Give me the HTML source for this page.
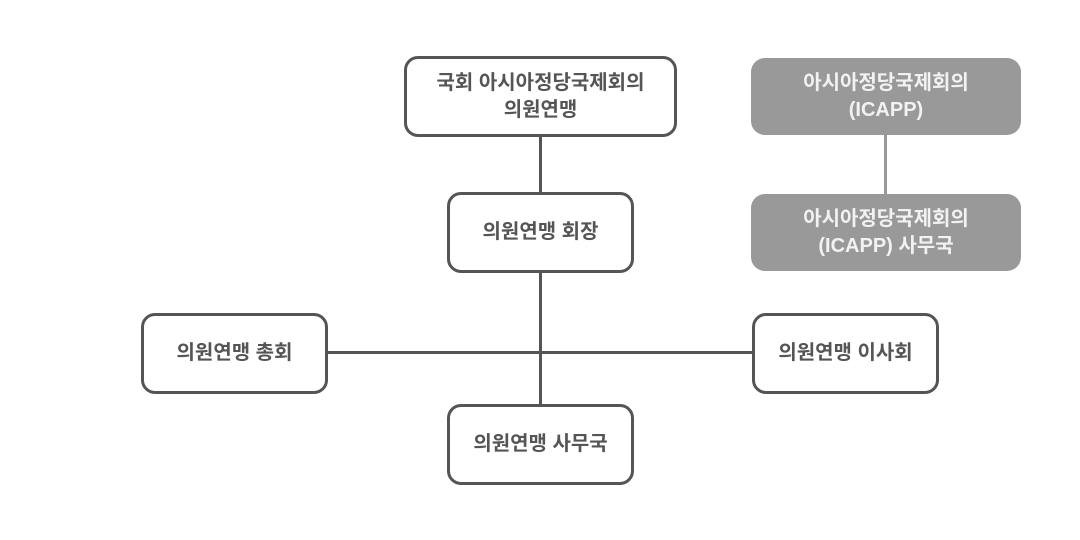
<!DOCTYPE html>
<html><head><meta charset="utf-8"><style>
body{margin:0;width:1080px;height:540px;background:#fff;position:relative;overflow:hidden;font-family:"Liberation Sans","Noto Sans CJK KR",sans-serif;}
.b{position:absolute;box-sizing:border-box;border:3px solid #555;border-radius:14px;background:#fff;display:flex;align-items:center;justify-content:center;text-align:center;color:#555;font-weight:bold;font-size:20px;line-height:27px;}
.g{position:absolute;box-sizing:border-box;border-radius:14px;background:#999;display:flex;align-items:center;justify-content:center;text-align:center;color:#f2f2f2;font-weight:bold;font-size:20px;line-height:27px;}
.l{position:absolute;background:#555;}
</style></head><body>
<div class="l" style="left:539px;top:136px;width:3px;height:58px"></div>
<div class="l" style="left:539px;top:270px;width:3px;height:136px"></div>
<div class="l" style="left:326px;top:351px;width:428px;height:3px"></div>
<div class="l" style="left:884px;top:133px;width:3px;height:62px;background:#999"></div>
<div class="b" style="left:404px;top:56px;width:273px;height:81px">국회 아시아정당국제회의<br>의원연맹</div>
<div class="b" style="left:447px;top:192px;width:187px;height:81px">의원연맹 회장</div>
<div class="b" style="left:141px;top:313px;width:187px;height:81px">의원연맹 총회</div>
<div class="b" style="left:752px;top:313px;width:187px;height:81px">의원연맹 이사회</div>
<div class="b" style="left:447px;top:404px;width:187px;height:81px">의원연맹 사무국</div>
<div class="g" style="left:751px;top:58px;width:270px;height:77px">아시아정당국제회의<br>(ICAPP)</div>
<div class="g" style="left:751px;top:194px;width:270px;height:77px">아시아정당국제회의<br>(ICAPP) 사무국</div>
</body></html>
